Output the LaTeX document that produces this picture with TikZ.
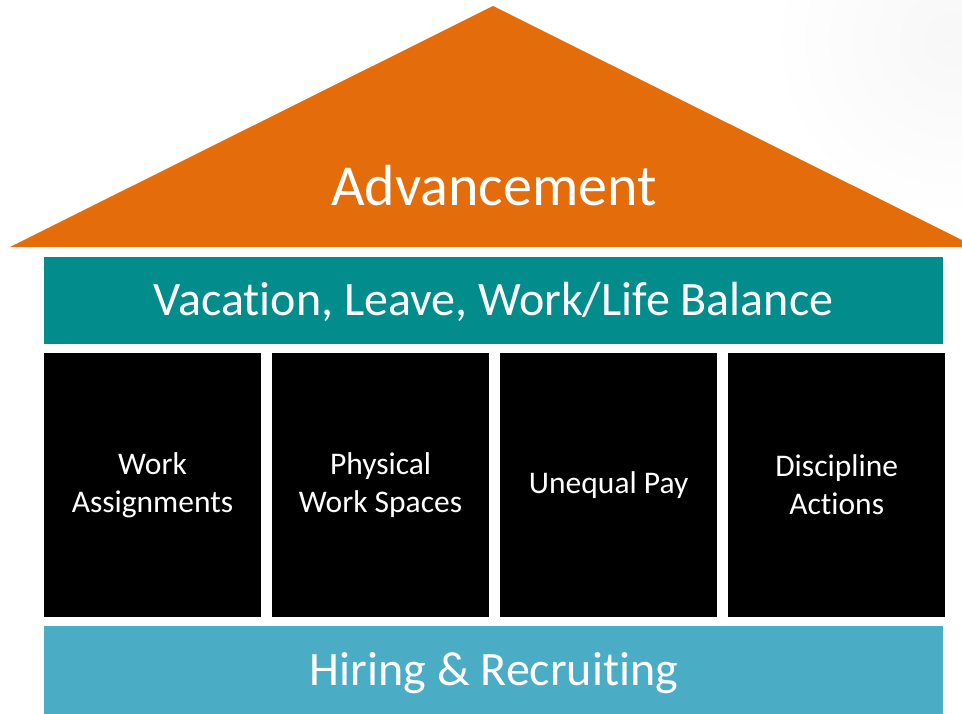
\documentclass[tikz,border=0pt]{standalone}
\usepackage{fontspec}
\setmainfont[Ligatures={NoCommon}]{Carlito}
\usetikzlibrary{positioning}
\definecolor{rooforange}{HTML}{E46C0A}
\definecolor{bandteal}{HTML}{028C8B}
\definecolor{floorblue}{HTML}{4BACC6}

\tikzset{
  band/.style={fill=#1, text=white, minimum width=899pt, inner sep=0pt},
  pillar/.style={fill=black, text=white, minimum width=217pt, minimum height=264pt,
                 inner sep=0pt, align=center, font=\fontsize{31.5}{38}\selectfont},
}

\begin{document}
\begin{tikzpicture}[x=1pt, y=-1pt]
  \useasboundingbox (0,0) rectangle (962,714);
  \clip (0,0) rectangle (962,714);
  % soft grey wash in the corner
  \shade[inner color=black!3, outer color=white] (950,40) circle (180);

  % roof
  \fill[rooforange] (10,247) -- (493,6) -- (976,247) -- cycle;
  \node[text=white, font=\fontsize{58}{62}\selectfont, text height=37.4pt, text depth=0pt,
        inner sep=0pt] (adv) at (494,187) {Advancement};

  % beam under the roof
  \node[band=bandteal, minimum height=87pt, font=\fontsize{48}{52}\selectfont,
        text height=31pt, text depth=0pt] (balance) at (493.5,300.5)
        {Vacation, Leave, Work/Life Balance};

  % the four pillars
  \node[pillar] (work) at (152.5,485) {Work\\Assignments};
  \node[pillar, right=10.67pt of work] (spaces) {Physical\\Work Spaces};
  \node[pillar, right=10.67pt of spaces] (pay) {Unequal Pay};
  \node[pillar, right=10.67pt of pay] (discipline) {Discipline\\Actions};

  % foundation
  \node[band=floorblue, minimum height=94pt, anchor=north] (hiring) at (493.5,626) {};
  \node[text=white, font=\fontsize{48}{52}\selectfont, text height=31pt, text depth=0pt,
        inner sep=0pt] (hiringtext) at (494,670) {Hiring \& Recruiting};
\end{tikzpicture}
\end{document}
